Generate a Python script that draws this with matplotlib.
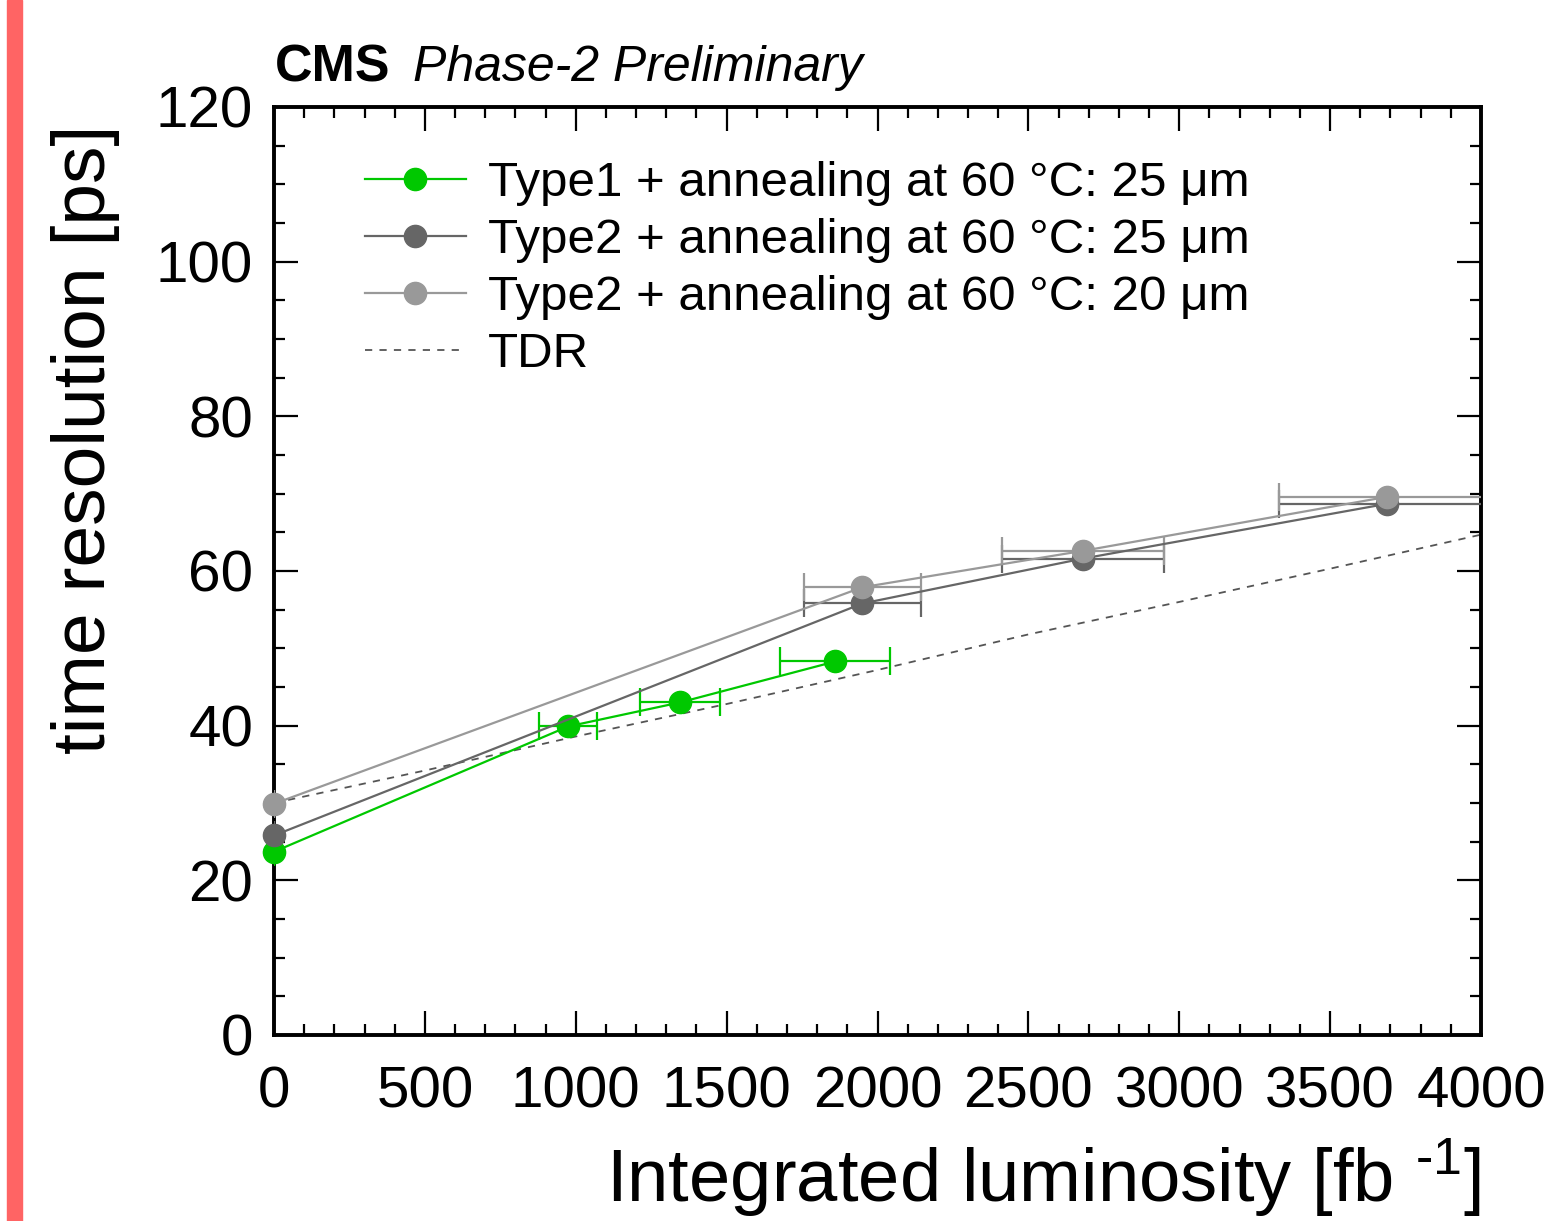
import matplotlib
matplotlib.use('Agg')
import matplotlib.pyplot as plt
from matplotlib.patches import Rectangle
from matplotlib.ticker import MultipleLocator

plt.rcParams['font.family'] = ['Liberation Sans', 'DejaVu Sans']
plt.rcParams['mathtext.fontset'] = 'custom'
plt.rcParams['mathtext.rm'] = 'Liberation Sans'
plt.rcParams['mathtext.default'] = 'regular'

# data
lumi_type1 = [0, 975, 1345, 1860]
res_type1 = [23.7, 39.9, 43.0, 48.3]
xerr_type1 = [0, 97, 132, 182]

lumi_type2 = [0, 1950, 2680, 3690]
res_type2_25 = [25.8, 55.8, 61.6, 68.7]
res_type2_20 = [29.9, 57.9, 62.6, 69.6]
xerr_type2 = [0, 195, 268, 360]

lumi_tdr = [0, 500, 1000, 1500, 2000, 2500, 3000, 3500, 4000]
res_tdr = [30.0, 34.2, 38.6, 42.8, 47.2, 51.8, 56.0, 60.3, 64.7]

labels = ['Type1 + annealing at 60 °C: 25 μm',
          'Type2 + annealing at 60 °C: 25 μm',
          'Type2 + annealing at 60 °C: 20 μm',
          'TDR']

green = '#00c800'
dark = '#666666'
light = '#999999'

fig = plt.figure(figsize=(15.52, 12.21), dpi=100)
ax = fig.add_axes([274/1552, 1 - 1035/1221, 1207/1552, 928/1221])

# red strip at the left edge
fig.patches.append(Rectangle((7/1552, 0), 15/1552, 1, transform=fig.transFigure,
                             color='#ff6464', zorder=0))

h4, = ax.plot(lumi_tdr, res_tdr, color='#555555', lw=1.3, ls=(0, (4, 4)), zorder=2)

def series(x, y, xe, c):
    ax.errorbar(x, y, xerr=xe, fmt='none', ecolor=c, elinewidth=1.6, capsize=10,
                capthick=1.6, zorder=3)
    return ax.plot(x, y, color=c, lw=1.6, marker='o', ms=16, mec=c, mfc=c,
                   zorder=4, clip_on=False)[0]

h1 = series(lumi_type1, res_type1, xerr_type1, green)
h2 = series(lumi_type2, res_type2_25, xerr_type2, dark)
h3 = series(lumi_type2, res_type2_20, xerr_type2, light)

ax.set_xlim(0, 4000)
ax.set_ylim(0, 120)
ax.xaxis.set_major_locator(MultipleLocator(500))
ax.xaxis.set_minor_locator(MultipleLocator(100))
ax.yaxis.set_major_locator(MultipleLocator(20))
ax.yaxis.set_minor_locator(MultipleLocator(5))
ax.tick_params(which='both', direction='in', top=True, right=True, width=1.6,
               labelsize=42)
ax.tick_params(which='major', length=17)
ax.tick_params(which='minor', length=8)
ax.tick_params(axis='x', pad=22)
ax.tick_params(axis='y', pad=15)
for s in ax.spines.values():
    s.set_linewidth(2.8)

ax.set_xlabel('Integrated luminosity [fb $^{\u2010 1}$]', fontsize=53.5, loc='right', labelpad=12)
ax.set_ylabel('time resolution [ps]', fontsize=54, loc='top', labelpad=26)
ax.yaxis.label.set_y(1 - 18/928)

ax.legend([h1, h2, h3, h4], labels, loc='upper left', bbox_to_anchor=(0.059, 0.963),
          frameon=False, fontsize=35.5, handlelength=2.05, handletextpad=0.45,
          labelspacing=0.245, borderaxespad=0)

fig.text(275/1552, 1 - 68/1221, 'CMS', fontsize=37.5, fontweight='bold', va='center')
fig.text(413/1552, 1 - 68/1221, 'Phase-2 Preliminary', fontsize=36, style='italic', va='center')

fig.savefig('out.png', dpi=100)
